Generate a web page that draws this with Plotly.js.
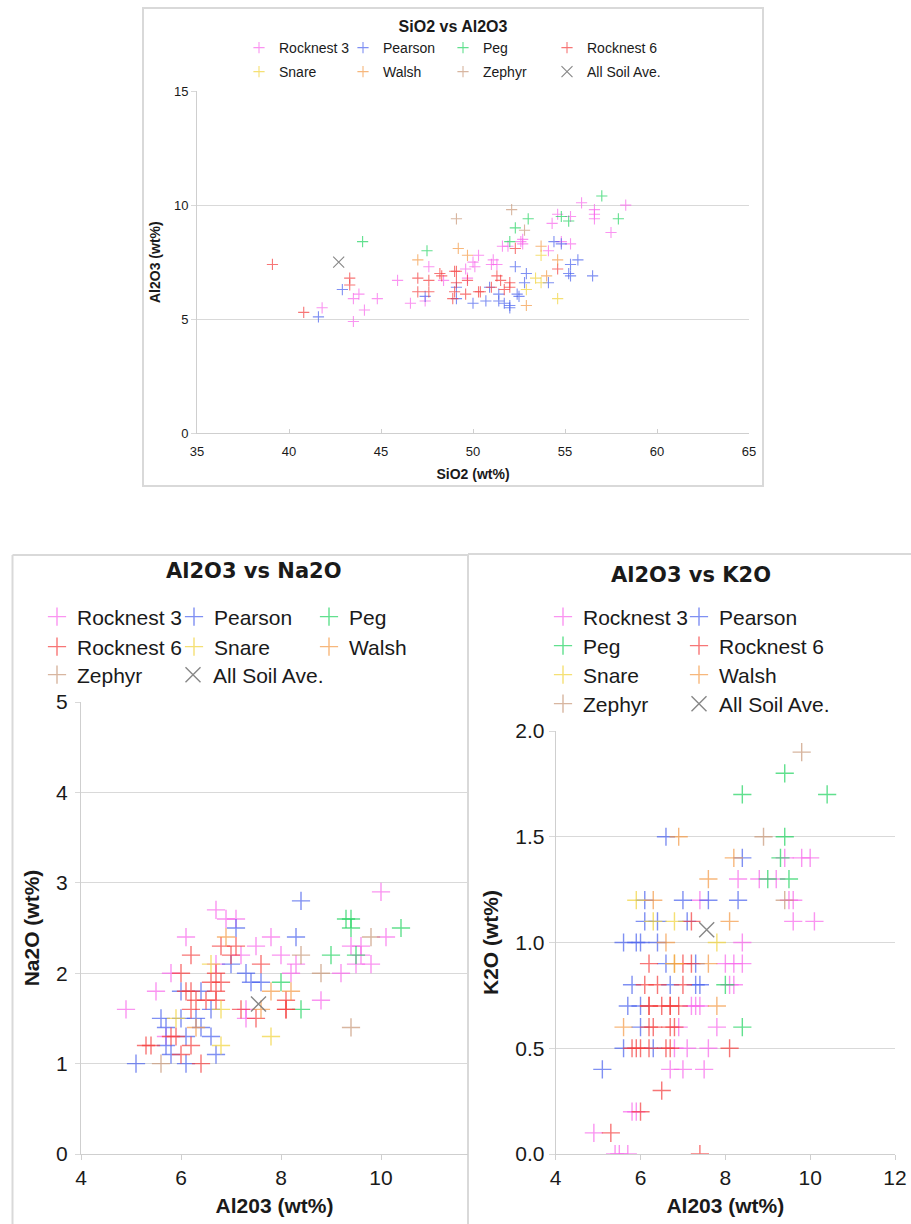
<!DOCTYPE html>
<html>
<head>
<meta charset="utf-8">
<script src="https://cdn.plot.ly/plotly-3.0.1.min.js"></script>
<style>html,body{margin:0;padding:0;background:#fff;}#chart{width:911px;height:1224px;}</style>
</head>
<body>
<div id="chart"></div>
<script>
// ---------- series names & colours ----------
const seriesNames = ['Rocknest 3','Pearson','Peg','Rocknest 6','Snare','Walsh','Zephyr','All Soil Ave.'];
const seriesColors = ['#f968ec','#4a62ee','#1fd45f','#f53d3d','#f2d43a','#f59a45','#c89878','#7a7a7a'];

// ---------- Chart 1: SiO2 vs Al2O3 ----------
const c1_rocknest3_sio2 = [41.8,43.5,43.5,43.8,44.1,44.8,45.9,46.6,47.4,47.6,48.4,49.6,50.0,50.1,50.3,51.0,51.1,51.3,51.6,51.9,52.7,52.7,54.1,54.3,54.6,54.8,55.3,55.3,55.9,56.6,56.6,56.6,57.5,58.3,52.6,49.7];
const c1_rocknest3_al2o3 = [5.5,4.9,5.9,6.1,5.4,5.9,6.7,5.7,5.8,7.3,6.7,7.2,7.5,7.3,7.8,7.4,7.6,7.4,8.2,8.2,8.3,8.5,8.0,9.2,9.6,8.4,9.5,8.3,10.1,9.8,9.4,9.6,8.8,10.0,8.4,6.8];
const c1_pearson_sio2 = [41.6,42.9,47.4,49.1,49.1,50.0,50.7,50.9,51.4,51.4,51.7,52.0,52.0,52.3,52.4,52.5,52.8,52.9,54.1,54.4,54.8,55.2,55.3,55.3,55.7,56.5];
const c1_pearson_al2o3 = [5.1,6.3,6.0,6.4,5.9,5.7,5.8,6.4,6.1,5.8,5.7,5.5,5.6,7.3,6.1,6.0,6.6,7.0,6.6,8.4,8.3,7.0,6.9,7.4,7.6,6.9];
const c1_peg_sio2 = [44.0,47.5,52.0,52.3,53.0,54.8,55.2,57.0,57.9];
const c1_peg_al2o3 = [8.4,8.0,8.4,9.0,9.4,9.5,9.3,10.4,9.4];
const c1_rocknest6_sio2 = [39.1,40.8,43.3,43.3,47.0,47.0,47.6,47.6,48.2,48.3,48.9,49.0,49.1,49.0,49.1,49.6,49.7,50.3,50.4,51.0,51.3,51.5,51.7,52.0,52.0,52.3,54.6];
const c1_rocknest6_al2o3 = [7.4,5.3,6.8,6.5,6.8,6.2,6.7,6.2,7.0,6.9,5.9,7.1,7.1,6.2,6.6,6.1,6.7,6.2,6.2,6.4,6.9,6.7,6.3,6.6,6.4,8.1,7.2];
const c1_snare_sio2 = [52.9,53.4,53.7,53.7,54.6];
const c1_snare_al2o3 = [6.3,6.8,7.8,6.6,5.9];
const c1_walsh_sio2 = [47.0,49.2,49.7,52.9,53.7,54.0,54.6];
const c1_walsh_al2o3 = [7.6,8.1,7.8,5.6,8.2,6.9,7.6];
const c1_zephyr_sio2 = [49.1,52.1,52.8];
const c1_zephyr_al2o3 = [9.4,9.8,8.9];
const c1_avg_sio2 = [42.7];
const c1_avg_al2o3 = [7.5];

// ---------- Chart 2: Al2O3 vs Na2O ----------
const c2_rocknest3_al2o3 = [4.9,5.5,5.8,6.1,6.7,6.9,7.1,7.2,7.3,7.5,7.8,8.0,8.2,8.3,8.8,9.2,9.4,9.5,9.6,9.6,9.8,10.0,10.1,5.7,6.7,7.3];
const c2_rocknest3_na2o = [1.6,1.8,2.0,2.4,2.7,2.6,2.6,2.2,1.5,2.3,2.4,2.2,2.0,2.1,1.7,2.0,2.3,2.1,2.3,2.2,2.1,2.9,2.4,1.3,2.1,1.6];
const c2_pearson_al2o3 = [5.1,5.6,5.7,5.7,5.8,6.0,6.0,6.1,6.1,6.3,6.4,6.4,6.6,6.6,6.7,7.0,7.1,7.3,7.4,7.6,8.3,8.4];
const c2_pearson_na2o = [1.0,1.5,1.4,1.2,1.1,1.8,1.5,1.3,1.0,1.5,1.4,1.8,1.6,1.3,1.1,2.1,2.5,2.0,1.9,1.9,2.4,2.8];
const c2_peg_al2o3 = [8.0,8.4,9.0,9.3,9.4,9.4,9.5,10.4];
const c2_peg_na2o = [1.9,1.6,2.2,2.6,2.6,2.5,2.2,2.5];
const c2_rocknest6_al2o3 = [5.3,5.4,5.8,5.9,6.0,6.0,6.1,6.2,6.2,6.2,6.2,6.3,6.4,6.5,6.6,6.7,6.7,6.7,6.8,6.8,7.0,7.1,7.2,7.5,7.6,8.1,8.1,8.1];
const c2_rocknest6_na2o = [1.2,1.2,1.3,1.3,1.1,2.0,1.8,1.8,2.2,1.6,1.2,1.7,1.0,1.7,1.9,1.7,1.8,2.0,2.3,1.9,2.2,2.3,1.6,1.5,2.1,1.6,1.7,1.6];
const c2_snare_al2o3 = [5.9,6.6,6.8,6.8,7.8];
const c2_snare_na2o = [1.5,2.1,1.6,1.2,1.3];
const c2_walsh_al2o3 = [6.3,6.9,7.6,7.8,8.2];
const c2_walsh_na2o = [1.4,2.4,1.6,1.8,1.8];
const c2_zephyr_al2o3 = [5.6,8.4,8.8,9.4,9.8];
const c2_zephyr_na2o = [1.0,2.2,2.0,1.4,2.4];
const c2_avg_al2o3 = [7.55];
const c2_avg_na2o = [1.66];

// ---------- Chart 3: Al2O3 vs K2O ----------
const c3_rocknest3_al2o3 = [9.4,9.8,10.0,8.3,8.8,9.2,7.4,9.5,9.6,9.6,10.1,8.4,8.0,8.2,8.4,8.1,8.2,7.2,7.3,7.4,6.9,7.8,6.8,7.1,7.6,6.7,7.0,7.5,5.8,5.9,4.9,5.4,5.5,5.7];
const c3_rocknest3_k2o = [1.4,1.4,1.4,1.3,1.3,1.3,1.2,1.2,1.2,1.1,1.1,1.0,0.9,0.9,0.9,0.8,0.8,0.7,0.7,0.7,0.6,0.6,0.5,0.5,0.5,0.4,0.4,0.4,0.2,0.2,0.1,0.0,0.0,0.0];
const c3_pearson_al2o3 = [6.6,8.4,6.1,7.0,7.6,8.3,6.1,6.4,7.1,5.6,5.9,6.0,6.4,6.6,7.3,5.8,6.7,7.3,7.4,5.7,6.0,6.0,5.6,6.3,5.1];
const c3_pearson_k2o = [1.5,1.4,1.2,1.2,1.2,1.2,1.1,1.1,1.1,1.0,1.0,1.0,1.0,0.9,0.9,0.8,0.8,0.8,0.8,0.7,0.7,0.6,0.5,0.5,0.4];
const c3_peg_al2o3 = [9.4,8.4,10.4,9.4,9.3,9.0,9.5,8.0,8.4];
const c3_peg_k2o = [1.8,1.7,1.7,1.5,1.4,1.3,1.3,0.8,0.6];
const c3_rocknest6_al2o3 = [7.2,6.2,7.0,7.2,6.1,6.4,7.0,6.2,6.2,6.5,6.7,6.7,6.9,6.2,6.3,6.7,6.8,5.8,5.9,6.0,6.2,6.6,6.7,8.1,6.5,6.0,5.3,7.4];
const c3_rocknest6_k2o = [1.1,0.9,0.9,0.9,0.8,0.8,0.8,0.7,0.7,0.7,0.7,0.7,0.7,0.6,0.6,0.6,0.6,0.5,0.5,0.5,0.5,0.5,0.5,0.5,0.3,0.2,0.1,0.0];
const c3_snare_al2o3 = [5.9,6.3,6.8,7.8,6.8];
const c3_snare_k2o = [1.2,1.1,1.1,1.0,0.9];
const c3_walsh_al2o3 = [6.9,8.2,7.6,6.3,8.1,6.6,6.8,7.6,7.8,5.6];
const c3_walsh_k2o = [1.5,1.4,1.3,1.2,1.1,1.0,0.9,0.9,0.7,0.6];
const c3_zephyr_al2o3 = [9.8,8.9,9.4];
const c3_zephyr_k2o = [1.9,1.5,1.2];
const c3_avg_al2o3 = [7.56];
const c3_avg_k2o = [1.06];

// ---------- layout helpers ----------
const W = 911, H = 1224;
const px = v => v / W;
const py = v => 1 - v / H;
const FONT = 'Liberation Sans, Arial, Helvetica, sans-serif';

const chart1 = [[c1_rocknest3_sio2,c1_rocknest3_al2o3],[c1_pearson_sio2,c1_pearson_al2o3],[c1_peg_sio2,c1_peg_al2o3],[c1_rocknest6_sio2,c1_rocknest6_al2o3],[c1_snare_sio2,c1_snare_al2o3],[c1_walsh_sio2,c1_walsh_al2o3],[c1_zephyr_sio2,c1_zephyr_al2o3],[c1_avg_sio2,c1_avg_al2o3]];
const chart2 = [[c2_rocknest3_al2o3,c2_rocknest3_na2o],[c2_pearson_al2o3,c2_pearson_na2o],[c2_peg_al2o3,c2_peg_na2o],[c2_rocknest6_al2o3,c2_rocknest6_na2o],[c2_snare_al2o3,c2_snare_na2o],[c2_walsh_al2o3,c2_walsh_na2o],[c2_zephyr_al2o3,c2_zephyr_na2o],[c2_avg_al2o3,c2_avg_na2o]];
const chart3 = [[c3_rocknest3_al2o3,c3_rocknest3_k2o],[c3_pearson_al2o3,c3_pearson_k2o],[c3_peg_al2o3,c3_peg_k2o],[c3_rocknest6_al2o3,c3_rocknest6_k2o],[c3_snare_al2o3,c3_snare_k2o],[c3_walsh_al2o3,c3_walsh_k2o],[c3_zephyr_al2o3,c3_zephyr_k2o],[c3_avg_al2o3,c3_avg_k2o]];

// legend entry anchor (marker centre, px) for each series in each chart
const legendCols1 = [263,367,467,571,263,367,467,571];
const legendRows1 = [48,48,48,48,72,72,72,72];
const legendCols2 = [61,198,333,61,198,333,61,197];
const legendRows2 = [617,617,617,647,647,647,675,675];
const legendCols3 = [567,703,567,703,567,703,567,703];
const legendRows3 = [617,617,646,646,675,675,704,704];

const gridC = '#d9d9d9', lineC = '#cfcfcf', txtC = '#1a1a1a';
const traces = [];
const legends = {};
let legendCount = 0;

function legendDef(markerX, centerY, size) {
  return {x: px(markerX - 16), y: py(centerY), xref: 'paper', yref: 'paper', xanchor: 'left', yanchor: 'middle',
    orientation: 'h', indentation: -8, bgcolor: 'rgba(0,0,0,0)',
    borderwidth: 0, font: {family: FONT, size: size, color: txtC}, itemclick: false, itemdoubleclick: false};
}

function addChart(data, xa, ya, cols, rows, size, lw, avgSize, fontSize) {
  data.forEach((d, i) => {
    const isAvg = i === 7;
    legendCount += 1;
    const lname = legendCount === 1 ? 'legend' : 'legend' + legendCount;
    legends[lname] = legendDef(cols[i], rows[i], fontSize);
    traces.push({
      type: 'scatter', mode: 'markers',
      x: d[0], y: d[1], name: seriesNames[i],
      xaxis: xa, yaxis: ya, legend: lname, showlegend: true,
      hoverinfo: 'x+y+name',
      marker: {
        symbol: isAvg ? 'x-thin' : 'cross-thin',
        size: isAvg ? avgSize : size,
        color: seriesColors[i],
        opacity: isAvg ? 0.9 : 0.7,
        line: {color: seriesColors[i], width: lw}
      }
    });
  });
}
addChart(chart1, 'x', 'y', legendCols1, legendRows1, 8, 1.1, 11, 14);
addChart(chart2, 'x2', 'y2', legendCols2, legendRows2, 13, 1.4, 15, 21);
addChart(chart3, 'x3', 'y3', legendCols3, legendRows3, 13, 1.4, 15, 21);

const layout = Object.assign({
  width: W, height: H,
  margin: {l: 0, r: 0, t: 0, b: 0, autoexpand: false},
  paper_bgcolor: '#ffffff', plot_bgcolor: 'rgba(0,0,0,0)',
  font: {family: FONT, color: txtC},
  showlegend: true,
  title: {text: '<b>SiO2 vs Al2O3</b>', x: px(453), xref: 'paper', xanchor: 'center', y: py(26), yref: 'paper', yanchor: 'middle', font: {family: FONT, size: 16, color: txtC}},
  xaxis: {domain: [px(197), px(749)], range: [35, 65], tick0: 35, dtick: 5, anchor: 'y', showgrid: false, zeroline: false,
    showline: true, linecolor: lineC, linewidth: 1, ticks: 'inside', ticklen: 4, tickcolor: lineC, ticklabelstandoff: 6,
    tickfont: {size: 13, color: txtC}, automargin: false, fixedrange: true,
    title: {text: '<b>SiO2 (wt%)</b>', font: {size: 14, color: txtC}, standoff: 11}},
  yaxis: {domain: [py(433.3), py(91)], range: [0, 15], tick0: 0, dtick: 5, anchor: 'x', showgrid: true, gridcolor: gridC, zeroline: false,
    showline: true, linecolor: lineC, linewidth: 1, ticks: 'outside', ticklen: 5, tickcolor: gridC,
    tickfont: {size: 13, color: txtC}, automargin: false, fixedrange: true,
    title: {text: '<b>Al2O3 (wt%)</b>', font: {size: 14, color: txtC}, standoff: 10}},
  xaxis2: {domain: [px(81), px(468)], range: [4, 11.74], tick0: 4, dtick: 2, anchor: 'y2', showgrid: false, zeroline: false,
    showline: true, linecolor: lineC, linewidth: 1, ticks: 'outside', ticklen: 5, tickcolor: lineC,
    tickfont: {size: 21, color: txtC}, automargin: false, fixedrange: true,
    title: {text: '<b>Al203 (wt%)</b>', font: {size: 21, color: txtC}, standoff: 10}},
  yaxis2: {domain: [py(1154), py(702)], range: [0, 5], tick0: 0, dtick: 1, anchor: 'x2', showgrid: true, gridcolor: gridC, zeroline: false,
    showline: true, linecolor: lineC, linewidth: 1, ticks: 'outside', ticklen: 5, tickcolor: gridC, ticklabelstandoff: 3,
    tickfont: {size: 21, color: txtC}, automargin: false, fixedrange: true,
    title: {text: '<b>Na2O (wt%)</b>', font: {size: 21, color: txtC}, standoff: 10}},
  xaxis3: {domain: [px(555.7), px(895)], range: [4, 12], tick0: 4, dtick: 2, anchor: 'y3', showgrid: false, zeroline: false,
    showline: true, linecolor: lineC, linewidth: 1, ticks: 'outside', ticklen: 5, tickcolor: lineC,
    tickfont: {size: 21, color: txtC}, automargin: false, fixedrange: true,
    title: {text: '<b>Al203 (wt%)</b>', font: {size: 21, color: txtC}, standoff: 10}},
  yaxis3: {domain: [py(1154), py(731)], range: [0, 2], tick0: 0, dtick: 0.5, tickformat: '.1f', anchor: 'x3', showgrid: true, gridcolor: gridC, zeroline: false,
    showline: true, linecolor: lineC, linewidth: 1, ticks: 'outside', ticklen: 6, tickcolor: gridC,
    tickfont: {size: 21, color: txtC}, automargin: false, fixedrange: true,
    title: {text: '<b>K2O (wt%)</b>', font: {size: 21, color: txtC}, standoff: 10}},
  annotations: [
    {text: '<b>Al2O3 vs Na2O</b>', xref: 'paper', yref: 'paper', x: px(254), y: py(571), xanchor: 'center', yanchor: 'middle', showarrow: false, font: {family: 'DejaVu Sans, sans-serif', size: 21, color: txtC}},
    {text: '<b>Al2O3 vs K2O</b>', xref: 'paper', yref: 'paper', x: px(691), y: py(575), xanchor: 'center', yanchor: 'middle', showarrow: false, font: {family: 'DejaVu Sans, sans-serif', size: 21, color: txtC}}
  ],
  shapes: [
    {type: 'rect', xref: 'paper', yref: 'paper', x0: px(143), x1: px(763), y0: py(486), y1: py(8), line: {color: gridC, width: 2}, layer: 'below'},
    {type: 'line', xref: 'paper', yref: 'paper', x0: px(12.5), x1: px(12.5), y0: py(1240), y1: py(555), line: {color: gridC, width: 2}, layer: 'below'},
    {type: 'line', xref: 'paper', yref: 'paper', x0: px(12.5), x1: px(468), y0: py(555), y1: py(555), line: {color: gridC, width: 2}, layer: 'below'},
    {type: 'line', xref: 'paper', yref: 'paper', x0: px(468), x1: px(468), y0: py(1240), y1: py(554), line: {color: gridC, width: 2}, layer: 'below'},
    {type: 'line', xref: 'paper', yref: 'paper', x0: px(468), x1: px(920), y0: py(554), y1: py(554), line: {color: gridC, width: 2}, layer: 'below'}
  ]
}, legends);

Plotly.newPlot('chart', traces, layout, {staticPlot: true, displayModeBar: false});
</script>
</body>
</html>
